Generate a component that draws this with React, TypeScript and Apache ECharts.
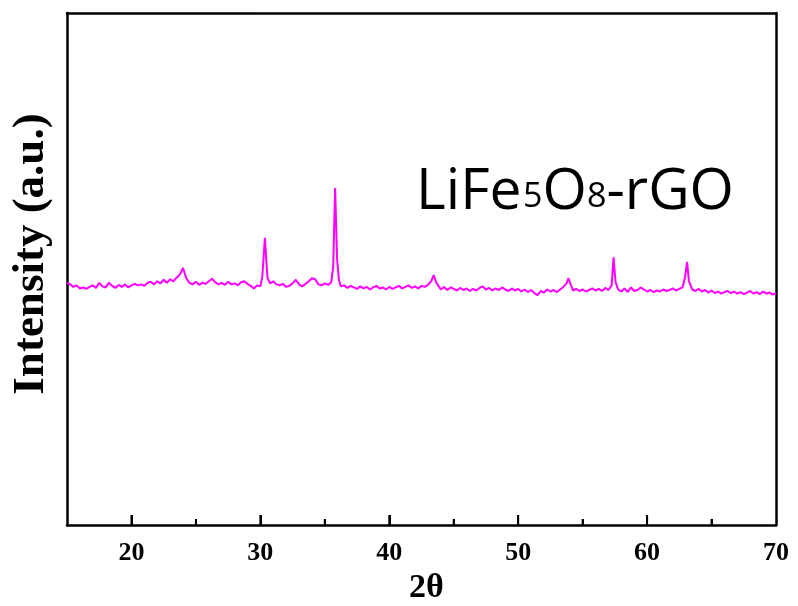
import React, { useEffect, useRef } from "react";
import * as echarts from "echarts";

const twoTheta: number[] = [
  15.0, 15.25, 15.5, 15.75, 16.0, 16.25, 16.5, 16.75, 17.0, 17.25, 17.5, 17.75,
  18.0, 18.25, 18.5, 18.75, 19.0, 19.25, 19.5, 19.75, 20.0, 20.25, 20.5, 20.75,
  21.0, 21.25, 21.5, 21.75, 22.0, 22.25, 22.5, 22.75, 23.0, 23.25, 23.5, 23.75,
  24.0, 24.25, 24.5, 24.75, 25.0, 25.25, 25.5, 25.75, 26.0, 26.25, 26.5, 26.75,
  27.0, 27.25, 27.5, 27.75, 28.0, 28.25, 28.5, 28.75, 29.0, 29.25, 29.5, 29.75,
  30.0, 30.15, 30.35, 30.55, 30.75, 31.0, 31.25, 31.5, 31.75, 32.0, 32.25, 32.5,
  32.75, 33.0, 33.25, 33.5, 33.75, 34.0, 34.25, 34.5, 34.75, 35.0, 35.25, 35.5,
  35.65, 35.8, 35.95, 36.1, 36.25, 36.5, 36.75, 37.0, 37.25, 37.5, 37.75, 38.0,
  38.25, 38.5, 38.75, 39.0, 39.25, 39.5, 39.75, 40.0, 40.25, 40.5, 40.75, 41.0,
  41.25, 41.5, 41.75, 42.0, 42.25, 42.5, 42.75, 43.0, 43.25, 43.45, 43.65, 43.9,
  44.0, 44.25, 44.5, 44.75, 45.0, 45.25, 45.5, 45.75, 46.0, 46.25, 46.5, 46.75,
  47.0, 47.25, 47.5, 47.75, 48.0, 48.25, 48.5, 48.75, 49.0, 49.25, 49.5, 49.75,
  50.0, 50.25, 50.5, 50.75, 51.0, 51.25, 51.5, 51.75, 52.0, 52.25, 52.5, 52.75,
  53.0, 53.25, 53.5, 53.75, 53.9, 54.1, 54.25, 54.5, 54.75, 55.0, 55.25, 55.5,
  55.75, 56.0, 56.25, 56.5, 56.75, 57.0, 57.25, 57.4, 57.55, 57.75, 58.0, 58.25,
  58.5, 58.75, 59.0, 59.25, 59.5, 59.75, 60.0, 60.25, 60.5, 60.75, 61.0, 61.25,
  61.5, 61.75, 62.0, 62.25, 62.5, 62.75, 62.95, 63.1, 63.25, 63.5, 63.75, 64.0,
  64.25, 64.5, 64.75, 65.0, 65.25, 65.5, 65.75, 66.0, 66.25, 66.5, 66.75, 67.0,
  67.25, 67.5, 67.75, 68.0, 68.25, 68.5, 68.75, 69.0, 69.25, 69.5, 69.75, 70.0,
];

const intensity: number[] = [
  47.3, 47.0, 46.5, 46.8, 46.2, 46.4, 46.1, 46.5, 46.8, 46.3, 47.3, 46.6,
  46.4, 47.3, 46.7, 46.3, 46.9, 46.5, 47.0, 46.4, 46.8, 47.1, 46.8, 47.0,
  46.7, 47.3, 47.5, 47.0, 47.6, 47.2, 47.9, 47.3, 48.0, 47.6, 48.3, 48.9,
  50.2, 48.2, 47.3, 47.0, 47.5, 46.9, 47.3, 47.1, 47.6, 48.1, 47.4, 47.0,
  47.3, 46.9, 47.5, 47.0, 47.2, 46.8, 47.4, 47.6, 47.1, 46.7, 46.2, 46.8,
  46.6, 48.5, 56.1, 48.3, 47.2, 47.6, 47.0, 46.8, 47.1, 46.5, 46.7, 47.2,
  47.9, 47.0, 46.6, 47.1, 47.6, 48.2, 48.0, 47.0, 46.8, 47.2, 46.9, 47.4,
  50.5, 65.8, 52.0, 47.8, 46.6, 46.8, 46.3, 46.7, 46.4, 46.1, 46.6, 46.2,
  46.5, 46.0, 46.4, 46.7, 46.2, 46.4, 46.0, 46.5, 46.1, 46.4, 46.7, 46.2,
  46.5, 46.8, 46.3, 46.6, 46.2, 46.7, 46.5, 46.9, 47.6, 48.8, 47.3, 46.4,
  46.0, 46.5, 45.9, 46.4, 46.1, 45.8, 46.3, 45.9, 46.2, 45.7, 46.1, 45.8,
  46.3, 46.6, 46.0, 46.3, 45.8, 46.2, 45.9, 46.4, 46.0, 45.7, 46.2, 45.8,
  46.1, 45.6, 46.0, 45.5, 45.9, 45.3, 44.9, 45.7, 45.4, 46.0, 45.6, 45.9,
  45.5, 46.0, 46.5, 47.2, 48.2, 46.8, 45.8, 46.1, 45.7, 46.0, 45.6, 45.9,
  46.2, 45.8, 46.1, 45.7, 46.3, 45.9, 46.8, 52.3, 47.5, 46.0, 45.6, 46.2,
  45.5, 46.4, 45.7, 45.9, 46.4, 46.0, 45.6, 45.9, 45.5, 45.8, 45.6, 46.0,
  45.7, 45.9, 46.2, 45.8, 46.1, 46.4, 48.5, 51.4, 47.6, 46.0, 45.7, 46.1,
  45.6, 45.9, 45.4, 45.8, 45.3, 45.6, 45.2, 45.5, 45.7, 45.3, 45.6, 45.2,
  45.5, 45.1, 45.4, 45.7, 45.2, 45.5, 45.1, 45.6, 45.2, 45.4, 45.0, 45.3,
];

const majorTicks: number[] = [20, 30, 40, 50, 60];
const minorTicks: number[] = [25, 35, 45, 55, 65];
const tickLabels: number[] = [20, 30, 40, 50, 60, 70];

const xName = "2θ";
const yName = "Intensity (a.u.)";
const labelParts: string[] = ["LiFe", "5", "O", "8", "-rGO"];

export default function App() {
  const ref = useRef<HTMLDivElement>(null);

  useEffect(() => {
    if (!ref.current) return;
    const chart = echarts.init(ref.current, undefined, { renderer: "svg" });
    const data = twoTheta.map((x, i) => [x, intensity[i]]);
    const serif = "Liberation Serif";
    const sans = "Open Sans";
    const frameLine = {
      show: true,
      onZero: false,
      lineStyle: { color: "#000", width: 2.5 },
    };
    const tickData = [
      ...majorTicks.map((v) => [v, 1]),
      ...minorTicks.map((v) => [v, 0]),
    ];
    // tick marks as short segments (major ~10px, minor ~6px tall)
    const tickSegments = [
      ...majorTicks.map((v) => [{ coord: [v, 0] }, { coord: [v, 1.95] }]),
      ...minorTicks.map((v) => [{ coord: [v, 0] }, { coord: [v, 1.15] }]),
    ];

    const partLeft = [416, 523, 542.5, 587, 606.5];
    const partTop = [158, 177, 158, 177, 158];
    const partSize = [57, 34, 57, 34, 57];
    const titles: any[] = labelParts.map((t, i) => ({
      text: t,
      left: partLeft[i],
      top: partTop[i],
      padding: 0,
      itemGap: 0,
      textStyle: {
        fontFamily: sans,
        fontWeight: "normal",
        fontSize: partSize[i],
        color: "#000",
      },
    }));
    titles.push({
      text: xName,
      left: 409,
      top: 568,
      padding: 0,
      textStyle: {
        fontFamily: serif,
        fontWeight: "bold",
        fontSize: 34,
        color: "#000",
      },
    });

    chart.setOption({
      animation: false,
      title: titles,
      grid: {
        left: 67,
        right: 22,
        top: 13,
        bottom: 81,
        outerBoundsMode: "none",
      },
      xAxis: [
        {
          type: "value",
          min: 15,
          max: 70,
          axisLine: frameLine,
          splitLine: { show: false },
          axisTick: {
            show: true,
            inside: true,
            length: 10,
            customValues: majorTicks,
            lineStyle: { color: "#000", width: 2 },
          },
          axisLabel: {
            show: true,
            customValues: tickLabels,
            margin: 13,
            fontFamily: serif,
            fontWeight: "bold",
            fontSize: 26,
            color: "#000",
          },
        },
        {
          type: "value",
          min: 15,
          max: 70,
          position: "top",
          axisLine: frameLine,
          splitLine: { show: false },
          axisTick: { show: false },
          axisLabel: { show: false },
        },
      ],
      yAxis: [
        {
          type: "value",
          min: 0,
          max: 100,
          name: yName,
          nameLocation: "middle",
          nameRotate: 90,
          nameGap: 17,
          nameTextStyle: {
            fontFamily: serif,
            fontWeight: "bold",
            fontSize: 45,
            color: "#000",
            padding: [0, 0, 0, 30],
          },
          axisLine: frameLine,
          axisTick: { show: false },
          axisLabel: { show: false },
          splitLine: { show: false },
        },
        {
          type: "value",
          min: 0,
          max: 100,
          position: "right",
          axisLine: frameLine,
          axisTick: { show: false },
          axisLabel: { show: false },
          splitLine: { show: false },
        },
      ],
      series: [
        {
          type: "line",
          data,
          showSymbol: false,
          lineStyle: { color: "#ff00ff", width: 2 },
          markLine: {
            silent: true,
            symbol: ["none", "none"],
            label: { show: false },
            lineStyle: { color: "#000", width: 2, type: "solid" },
            data: tickSegments,
          },
        },
        {
          type: "custom",
          data: tickData,
          z: 10,
          renderItem: (params: any, api: any) => {
            const p = api.coord([api.value(0), 0]);
            const len = api.value(1) === 1 ? 10 : 6;
            return {
              type: "line",
              shape: { x1: p[0], y1: p[1], x2: p[0], y2: p[1] - len },
              style: { stroke: "#000", lineWidth: 2 },
            };
          },
        },
      ],
    });

    return () => chart.dispose();
  }, []);

  return (
    <div
      ref={ref}
      style={{
        position: "fixed",
        left: 0,
        top: 0,
        width: 798,
        height: 606,
      }}
    />
  );
}
